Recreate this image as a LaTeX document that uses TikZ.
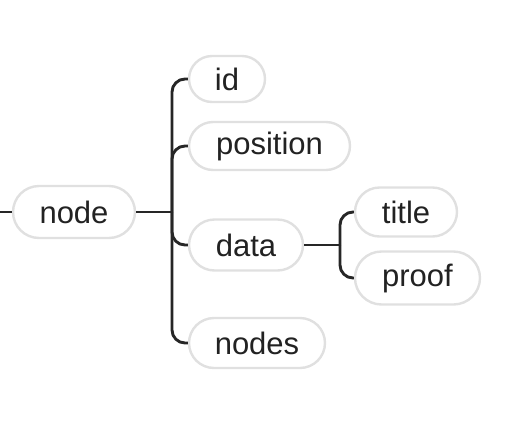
\documentclass[tikz,border=0pt]{standalone}
\usepackage{fontspec}
\setmainfont{Liberation Sans}
\usetikzlibrary{shapes.misc}
\definecolor{txt}{HTML}{222222}
\definecolor{pillborder}{HTML}{E0E0E0}
\definecolor{linec}{HTML}{262626}
\begin{document}
\begin{tikzpicture}[x=1pt,y=-1pt,
  pill/.style={rounded rectangle, draw=pillborder, line width=2.4pt, fill=white,
    minimum height=50pt, inner sep=0pt, text=txt,
    font=\fontsize{31pt}{34pt}\selectfont},
  conn/.style={draw=linec, line width=2.9pt, rounded corners=13pt}]
\useasboundingbox (0,0) rectangle (520,440);
\node[pill, minimum width=122pt, minimum height=52pt] (node) at (74,212) {node};
\node[pill, minimum width=76pt, minimum height=46pt] (id) at (227,79) {id};
\node[pill, minimum width=161pt, minimum height=48pt] (position) at (269.5,146) {position};
\node[pill, minimum width=114pt, minimum height=51pt] (data) at (246,245) {data};
\node[pill, minimum width=136pt] (nodes) at (257,343) {nodes};
\node[pill, minimum width=102pt, minimum height=49pt] (title) at (406,212) {title};
\node[pill, minimum width=125pt, minimum height=53pt] (proof) at (417.5,278) {proof};
\coordinate (free) at (0,212);
\coordinate (j1) at (172,212);
\coordinate (j2) at (340,245);
\draw[conn] (free) -- (node.west);
\draw[conn] (node.east) -- (j1);
\draw[conn] (j1) -- (j1 |- id.west) -- (id.west);
\draw[conn] (j1) -- (j1 |- position.west) -- (position.west);
\draw[conn] (j1) -- (j1 |- data.west) -- (data.west);
\draw[conn] (j1) -- (j1 |- nodes.west) -- (nodes.west);
\draw[conn] (data.east) -- (j2);
\draw[conn] (j2) -- (j2 |- title.west) -- (title.west);
\draw[conn] (j2) -- (j2 |- proof.west) -- (proof.west);
\end{tikzpicture}
\end{document}
